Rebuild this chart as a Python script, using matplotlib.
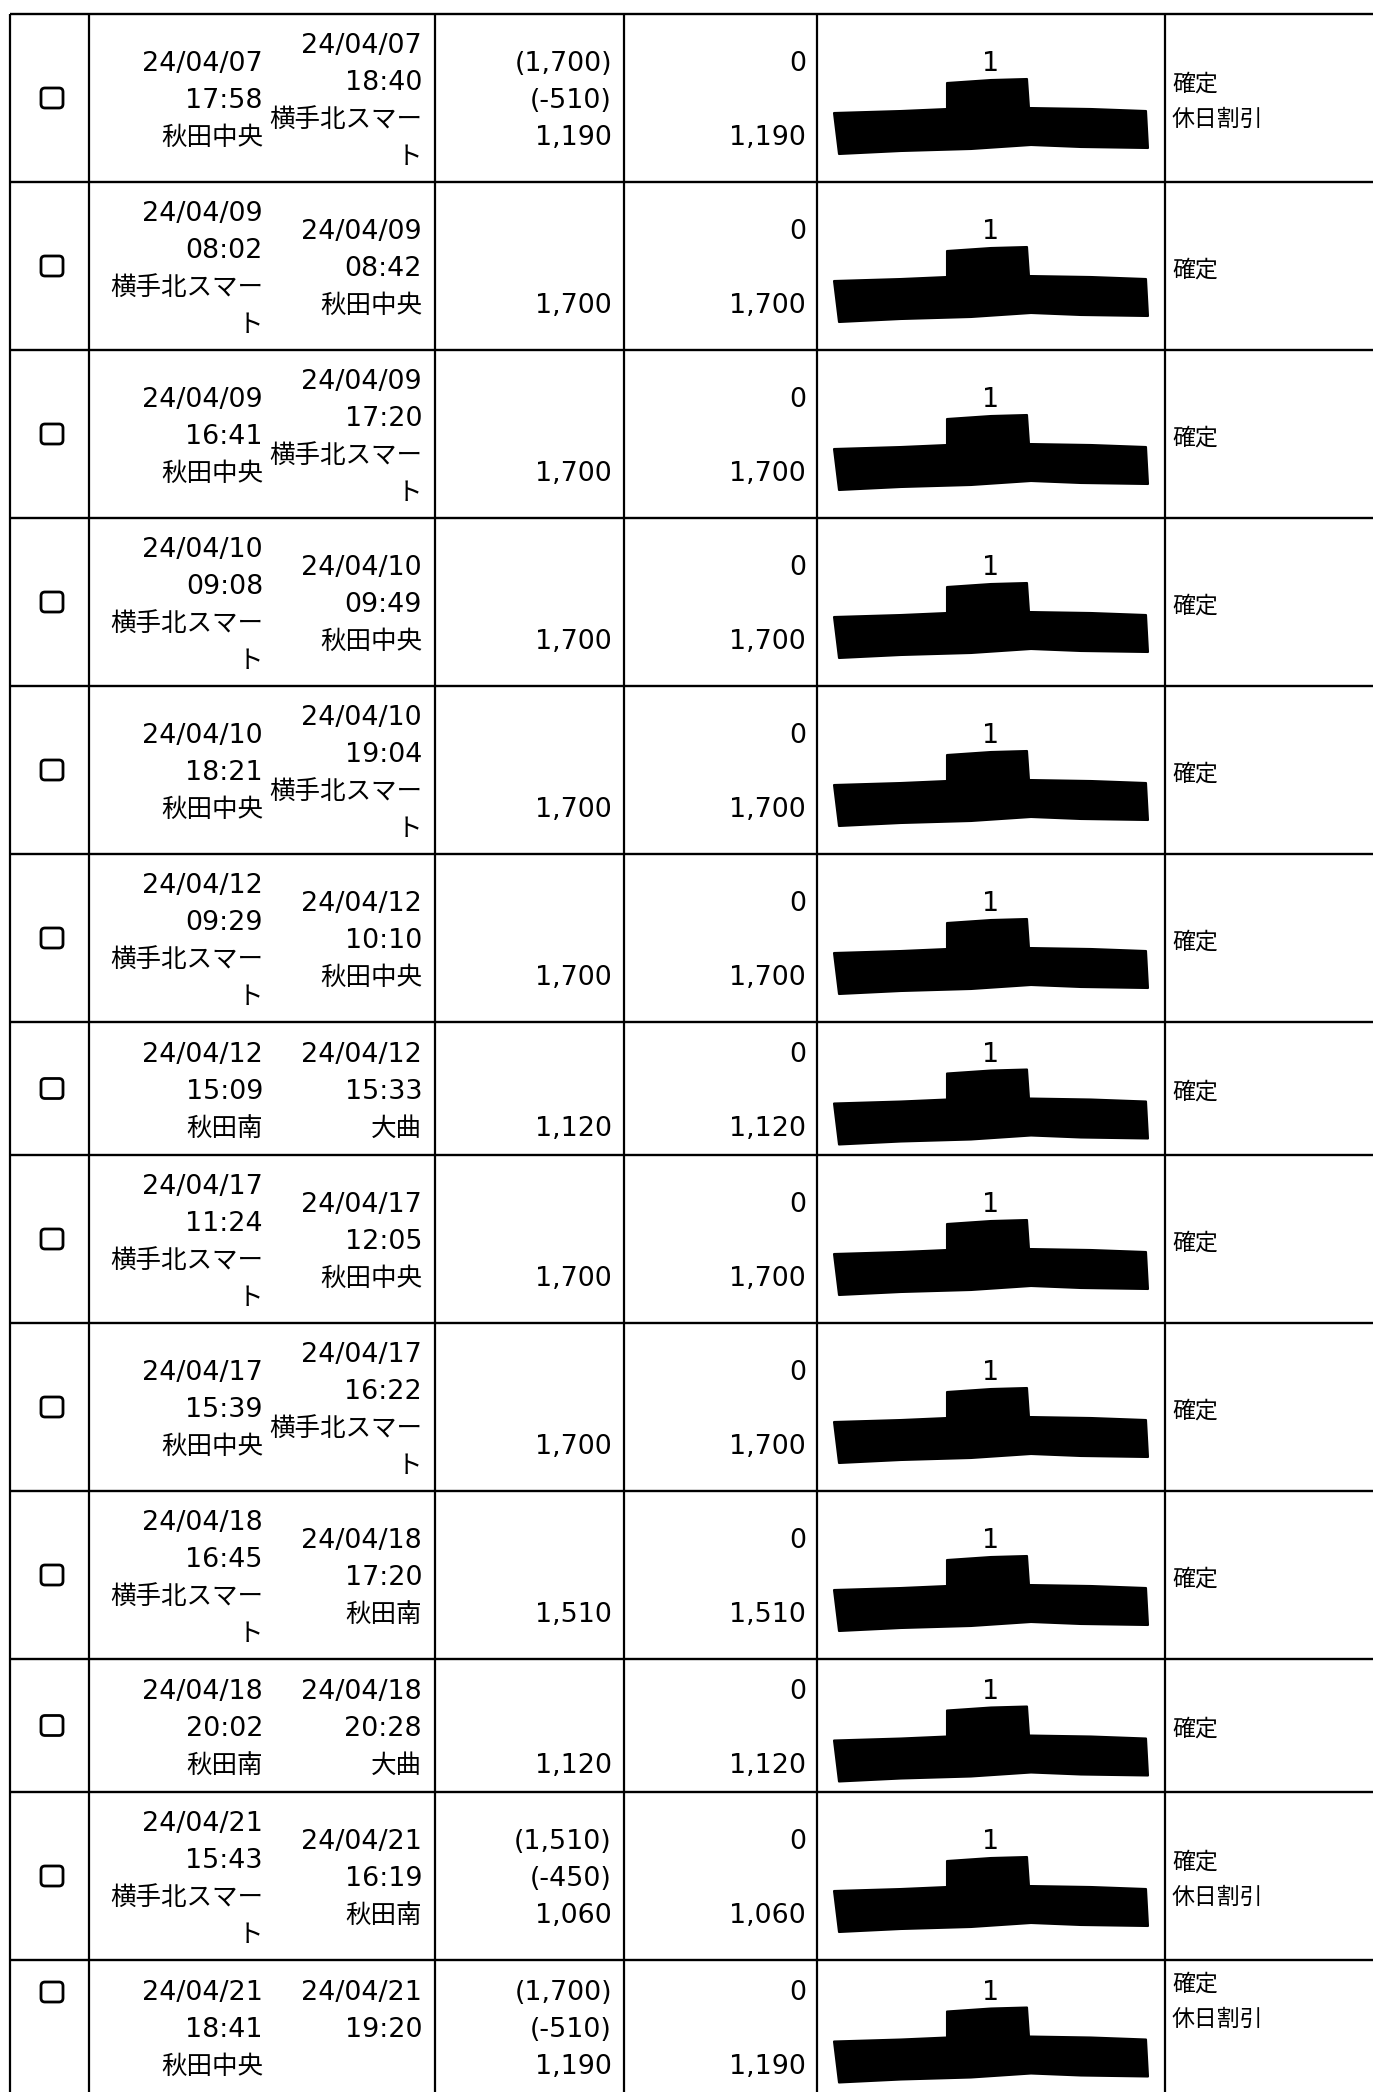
import matplotlib
matplotlib.use("Agg")
import matplotlib.pyplot as plt
from matplotlib.patches import FancyBboxPatch, Polygon

plt.rcParams['font.family'] = ['DejaVu Sans', 'Noto Sans CJK JP']

# usage records (one entry per row)
dep_dates = ["24/04/07", "24/04/09", "24/04/09", "24/04/10", "24/04/10", "24/04/12", "24/04/12",
             "24/04/17", "24/04/17", "24/04/18", "24/04/18", "24/04/21", "24/04/21"]
dep_times = ["17:58", "08:02", "16:41", "09:08", "18:21", "09:29", "15:09",
             "11:24", "15:39", "16:45", "20:02", "15:43", "18:41"]
dep_stations = ["秋田中央", "横手北スマート", "秋田中央", "横手北スマート", "秋田中央", "横手北スマート", "秋田南",
                "横手北スマート", "秋田中央", "横手北スマート", "秋田南", "横手北スマート", "秋田中央"]
arr_dates = ["24/04/07", "24/04/09", "24/04/09", "24/04/10", "24/04/10", "24/04/12", "24/04/12",
             "24/04/17", "24/04/17", "24/04/18", "24/04/18", "24/04/21", "24/04/21"]
arr_times = ["18:40", "08:42", "17:20", "09:49", "19:04", "10:10", "15:33",
             "12:05", "16:22", "17:20", "20:28", "16:19", "19:20"]
arr_stations = ["横手北スマート", "秋田中央", "横手北スマート", "秋田中央", "横手北スマート", "秋田中央", "大曲",
                "秋田中央", "横手北スマート", "秋田南", "大曲", "秋田南", ""]
tolls = [1700, 1700, 1700, 1700, 1700, 1700, 1120, 1700, 1700, 1510, 1120, 1510, 1700]
discounts = [510, 0, 0, 0, 0, 0, 0, 0, 0, 0, 0, 450, 510]
paid = [1190, 1700, 1700, 1700, 1700, 1700, 1120, 1700, 1700, 1510, 1120, 1060, 1190]
other = [0, 0, 0, 0, 0, 0, 0, 0, 0, 0, 0, 0, 0]
counts = [1, 1, 1, 1, 1, 1, 1, 1, 1, 1, 1, 1, 1]
status = ["確定", "確定", "確定", "確定", "確定", "確定", "確定", "確定", "確定", "確定", "確定", "確定", "確定"]
notes = ["休日割引", "", "", "", "", "", "", "", "", "", "", "休日割引", "休日割引"]

W, H = 1373, 2092
fig = plt.figure(figsize=(W / 100, H / 100), dpi=100)
ax = fig.add_axes([0, 0, 1, 1])
ax.set_xlim(0, W)
ax.set_ylim(H, 0)
ax.axis("off")

col_edges = [10, 89, 435, 624, 817, 1165]
lh = 37.0      # text line spacing (px)
fs = 19.4      # digits
fs_jp = 18.4   # station names
fs_small = 16.5
ink = "black"


def wrap(name):
    # long station names break after 6 characters in the narrow column
    if len(name) > 6:
        return [name[:6], name[6:]]
    return [name]


def draw_block(lines, x, yc, ha="right", size=None, spacing=lh):
    n = len(lines)
    for k, s in enumerate(lines):
        if s == "":
            continue
        if size is None:
            sz = fs if s.isascii() else fs_jp
        else:
            sz = size
        y = yc + (k - (n - 1) / 2) * spacing
        ax.text(x, y + fs * 0.52, s, ha=ha, va="baseline", fontsize=sz, color=ink)


def money(v):
    return f"{v:,}"


# row boundaries follow the number of text lines in each row
top = 14
row_edges = [top]
n_rows = len(dep_dates)
dep_blocks = []
arr_blocks = []
for i in range(n_rows):
    d = [dep_dates[i], dep_times[i]] + wrap(dep_stations[i])
    a = [arr_dates[i], arr_times[i]] + (wrap(arr_stations[i]) if arr_stations[i] else [""])
    dep_blocks.append(d)
    arr_blocks.append(a)
    nl = max(len(d), len(a))
    row_edges.append(row_edges[-1] + 35 * nl + 28)

ax.hlines(row_edges[:-1], col_edges[0], W, color="black", lw=1.7)
ax.vlines(col_edges, top, H, color="black", lw=1.6)

# redaction marker shape (offsets from cell centre)
blot = [(-157, 15), (-90, 13), (-44, 11), (-44, -15), (0, -18), (36, -19), (38, 10),
        (100, 11), (155, 13), (157, 50), (90, 49), (40, 47), (-20, 51), (-90, 53), (-152, 56)]

for i in range(n_rows):
    y0, y1 = row_edges[i], row_edges[i + 1]
    yc = (y0 + y1) / 2
    if i == n_rows - 1:
        # last row is cut at the page bottom: checkbox and status sit at the top
        box_y = y0 + 32
        stat_y = y0 + 38
    else:
        box_y = yc
        stat_y = yc

    # checkbox
    ax.add_patch(FancyBboxPatch((52 - 11, box_y - 10), 22, 20,
                                boxstyle="round,pad=0,rounding_size=4",
                                fc="white", ec=ink, lw=2.0))

    draw_block(dep_blocks[i], 263, yc)
    draw_block(arr_blocks[i], 422, yc)

    if discounts[i] > 0:
        amt = ["(" + money(tolls[i]) + ")", "(-" + money(discounts[i]) + ")", money(paid[i])]
    else:
        amt = ["", "", money(tolls[i])]
    draw_block(amt, 612, yc)
    draw_block([str(other[i]), "", money(paid[i])], 806, yc)

    cx = 991
    ax.text(cx, yc - lh + fs * 0.52, str(counts[i]), ha="center", va="baseline",
            fontsize=fs, color=ink)
    ax.add_patch(Polygon([(cx + dx, yc + dy) for dx, dy in blot], closed=True,
                         fc="black", ec="black", lw=1.5, joinstyle="round"))

    st = [status[i]] + ([notes[i]] if notes[i] else [])
    draw_block(st, 1172, stat_y, ha="left", size=fs_small, spacing=35)

fig.savefig("out.png", dpi=100, facecolor="white")
